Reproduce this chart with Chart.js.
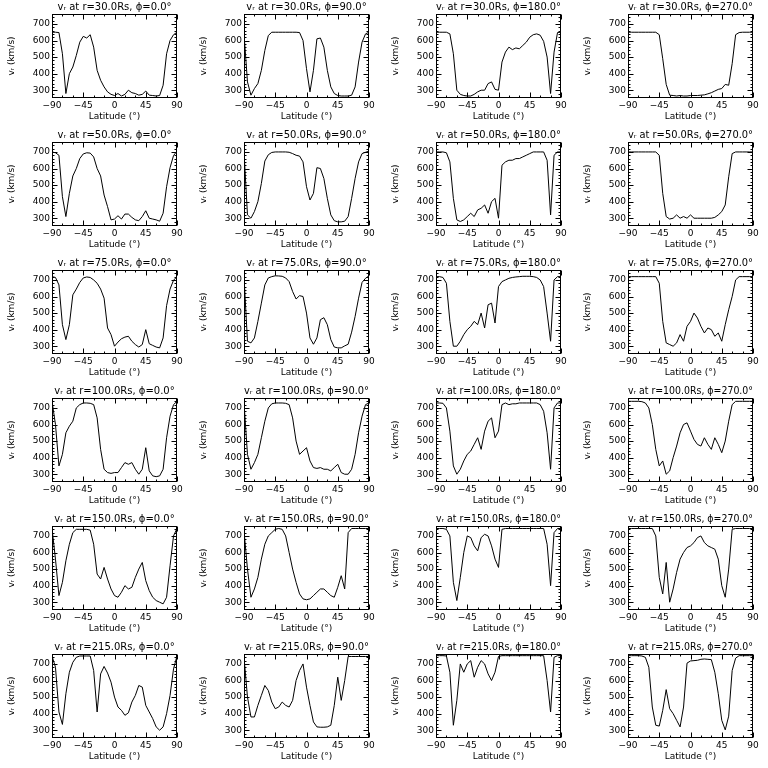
<!DOCTYPE html>
<html>
<head>
<meta charset="utf-8">
<script src="https://cdn.jsdelivr.net/npm/chart.js@4.4.1/dist/chart.umd.min.js"></script>
<style>
  html, body { margin: 0; padding: 0; background: #fff; }
  #grid { position: relative; width: 768px; height: 768px; }
  #grid canvas { position: absolute; }
</style>
</head>
<body>
<div id="grid"></div>
<script>
// latitude grid (deg) shared by every panel
const lat = [-90,-85,-80,-75,-70,-65,-60,-55,-50,-45,-40,-35,-30,-25,-20,-15,-10,-5,0,
             5,10,15,20,25,30,35,40,45,50,55,60,65,70,75,80,85,90];
const radii = ['30.0', '50.0', '75.0', '100.0', '150.0', '215.0'];
const phis = ['0.0', '90.0', '180.0', '270.0'];
const xTicks = [-90, -45, 0, 45, 90];
const yTicks = [300, 400, 500, 600, 700];

// v_r (km/s)
const v30_0   = [650,650,648,520,280,400,440,510,590,625,615,635,560,420,360,320,290,275,268,280,265,275,300,285,280,270,275,295,270,268,265,268,330,520,600,635,650];
const v30_90  = [640,350,270,310,340,420,540,630,650,650,650,650,650,650,650,650,648,600,430,290,420,610,615,560,420,320,280,268,265,265,265,270,320,470,590,640,650];
const v30_180 = [650,650,650,650,640,520,300,275,268,265,265,275,290,300,300,340,350,305,300,470,530,560,545,555,550,570,590,620,635,640,632,595,500,280,530,648,650];
const v30_270 = [650,650,650,650,650,650,650,650,650,635,490,335,270,268,265,268,265,265,268,268,268,270,272,278,285,295,305,310,335,330,460,635,648,650,650,650,650];

const v50_0   = [700,695,680,430,310,450,555,600,660,688,695,693,670,600,555,440,370,290,295,315,295,325,325,305,290,285,310,345,300,295,290,282,330,490,605,678,705];
const v50_90  = [700,320,300,340,400,510,645,683,697,700,700,700,700,698,690,680,675,640,490,410,450,605,600,540,420,320,285,278,278,282,310,420,540,640,690,698,705];
const v50_180 = [700,700,700,695,640,420,290,280,290,310,330,310,350,360,380,330,400,420,300,620,640,650,650,660,660,670,680,690,700,700,700,700,650,320,680,700,700];
const v50_270 = [700,700,700,700,700,700,700,700,700,680,450,310,295,300,320,300,310,300,320,300,300,300,300,300,300,305,320,340,380,550,690,700,700,700,700,700,700];

const v75_0   = [720,715,670,430,340,430,610,645,685,712,718,715,700,680,645,590,410,370,300,325,345,355,360,330,310,295,310,400,315,305,295,290,350,545,645,698,720];
const v75_90  = [720,330,320,350,450,560,670,712,720,725,724,722,712,690,630,585,605,600,500,350,312,350,460,472,430,340,295,290,290,302,312,385,480,590,685,710,725];
const v75_180 = [720,720,715,680,450,300,300,330,370,400,420,450,430,500,410,550,560,440,660,690,700,710,715,718,720,722,722,722,720,715,700,660,500,330,700,720,720];
const v75_270 = [720,720,720,720,720,720,720,720,720,680,450,320,310,300,320,370,330,420,450,500,470,420,380,410,400,360,380,330,430,520,600,700,720,720,720,720,720];

const v100_0   = [740,600,350,420,550,590,620,700,720,730,730,728,720,640,450,330,310,305,310,310,340,370,360,370,330,300,330,460,320,290,285,290,330,520,650,720,740];
const v100_90  = [730,420,330,370,420,520,620,700,725,730,730,730,728,720,640,500,420,440,460,380,340,335,340,330,330,320,340,360,310,300,300,330,420,550,650,720,730];
const v100_180 = [730,730,728,700,560,350,300,330,380,420,440,480,520,450,560,620,640,520,560,720,730,720,725,725,730,730,730,730,730,730,720,680,550,330,700,730,730];
const v100_270 = [740,740,740,740,738,730,700,600,450,350,380,300,320,400,470,550,600,610,560,510,480,470,520,480,450,520,480,430,500,620,720,740,740,740,740,740,740];

const v150_0   = [745,560,340,420,550,650,720,740,740,740,740,735,650,470,440,510,440,380,340,330,360,400,380,390,450,500,540,430,370,330,310,300,290,330,520,700,745];
const v150_90  = [730,500,330,380,450,560,650,700,720,740,745,740,700,600,500,420,350,320,315,320,340,360,380,380,360,340,330,390,460,380,720,745,745,745,745,745,745];
const v150_180 = [745,745,745,740,700,420,310,450,600,700,690,640,610,690,710,700,640,560,510,740,745,745,745,745,745,745,745,745,745,745,745,745,650,400,720,745,745];
const v150_270 = [745,745,745,745,745,745,745,745,700,450,350,540,300,380,480,560,600,630,640,660,690,700,660,640,630,620,560,400,330,500,740,745,745,745,745,745,745];

const v215_0   = [748,680,410,335,520,650,710,740,748,748,748,748,660,410,640,685,645,590,500,440,420,390,405,470,510,570,560,450,410,370,320,300,320,400,510,670,748];
const v215_90  = [740,500,380,380,450,510,570,540,470,430,440,470,450,440,480,600,660,700,560,450,350,320,318,318,320,330,450,620,480,600,745,745,745,745,745,745,745];
const v215_180 = [750,750,750,748,650,330,480,700,650,700,720,620,680,720,700,640,600,650,745,750,750,750,750,750,750,750,750,750,750,750,750,750,600,410,740,750,750];
const v215_270 = [750,750,750,750,748,740,680,440,330,325,420,545,430,400,360,320,440,705,718,720,722,728,730,728,726,650,520,360,302,385,660,735,750,750,750,750,750];

const series = [
  [v30_0, v30_90, v30_180, v30_270],
  [v50_0, v50_90, v50_180, v50_270],
  [v75_0, v75_90, v75_180, v75_270],
  [v100_0, v100_90, v100_180, v100_270],
  [v150_0, v150_90, v150_180, v150_270],
  [v215_0, v215_90, v215_180, v215_270]
];

const FONT = 'DejaVu Sans';

// IDL-like box with inward ticks on all four sides
const boxTicks = {
  id: 'boxTicks',
  afterDatasetsDraw(chart) {
    const {ctx, chartArea: a, scales: {x, y}} = chart;
    const l = Math.round(a.left) + 0.5, r = Math.round(a.right) - 0.5;
    const t = Math.round(a.top) + 0.5, b = Math.round(a.bottom) - 0.5;
    ctx.save();
    ctx.strokeStyle = '#000';
    ctx.lineWidth = 1;
    ctx.strokeRect(l, t, r - l, b - t);
    ctx.beginPath();
    for (let v = -90; v <= 90; v += 15) {
      const px = Math.round(x.getPixelForValue(v)) + 0.5;
      const len = v % 45 === 0 ? 5 : 2;
      ctx.moveTo(px, b); ctx.lineTo(px, b - len);
      ctx.moveTo(px, t); ctx.lineTo(px, t + len);
    }
    for (let v = 260; v <= 760; v += 20) {
      const py = Math.round(y.getPixelForValue(v)) + 0.5;
      const len = v % 100 === 0 ? 5 : 2;
      ctx.moveTo(l, py); ctx.lineTo(l + len, py);
      ctx.moveTo(r, py); ctx.lineTo(r - len, py);
    }
    ctx.stroke();
    ctx.restore();
  }
};

const grid = document.getElementById('grid');

radii.forEach((rad, row) => {
  phis.forEach((phi, col) => {
    const cv = document.createElement('canvas');
    cv.width = 192; cv.height = 128;
    cv.style.left = (col * 192) + 'px';
    cv.style.top = (row * 128) + 'px';
    cv.style.width = '192px'; cv.style.height = '128px';
    grid.appendChild(cv);

    const vals = series[row][col];
    new Chart(cv, {
      type: 'line',
      data: {
        datasets: [{
          data: lat.map((la, i) => ({x: la, y: vals[i]})),
          borderColor: '#000',
          borderWidth: 1,
          pointRadius: 0,
          tension: 0,
          fill: false
        }]
      },
      options: {
        responsive: false,
        animation: false,
        devicePixelRatio: 1,
        layout: { padding: { left: 0, right: 15, top: 0, bottom: 0 } },
        plugins: {
          legend: { display: false },
          tooltip: { enabled: false },
          title: {
            display: true,
            fullSize: false,
            text: 'v\u1D63 at r=' + rad + 'Rs, \u03D5=' + phi + '\u00B0',
            color: '#000',
            font: { family: FONT, size: 10, weight: 'normal' },
            padding: { top: 1, bottom: 1 }
          }
        },
        scales: {
          x: {
            type: 'linear',
            min: -90, max: 90,
            afterBuildTicks: s => { s.ticks = xTicks.map(v => ({value: v})); },
            afterFit: s => { s.height = 30; },
            grid: { display: false, drawTicks: false },
            border: { display: false },
            ticks: {
              color: '#000', padding: 2, maxRotation: 0, autoSkip: false,
              font: { family: FONT, size: 9 },
              callback: v => String(v).replace('-', '\u2212')
            },
            title: {
              display: true, text: 'Latitude (\u00B0)', color: '#000',
              font: { family: FONT, size: 9 },
              padding: { top: 0, bottom: 6 }
            }
          },
          y: {
            type: 'linear',
            min: 253, max: 760,
            afterBuildTicks: s => { s.ticks = yTicks.map(v => ({value: v})); },
            afterFit: s => { s.width = 52; },
            grid: { display: false, drawTicks: false },
            border: { display: false },
            ticks: {
              color: '#000', padding: 2,
              font: { family: FONT, size: 9 }
            },
            title: {
              display: true, text: 'v\u1D63 (km/s)', color: '#000',
              font: { family: FONT, size: 9 },
              padding: { top: 6, bottom: 0 }
            }
          }
        }
      },
      plugins: [boxTicks]
    });
  });
});
</script>
</body>
</html>
